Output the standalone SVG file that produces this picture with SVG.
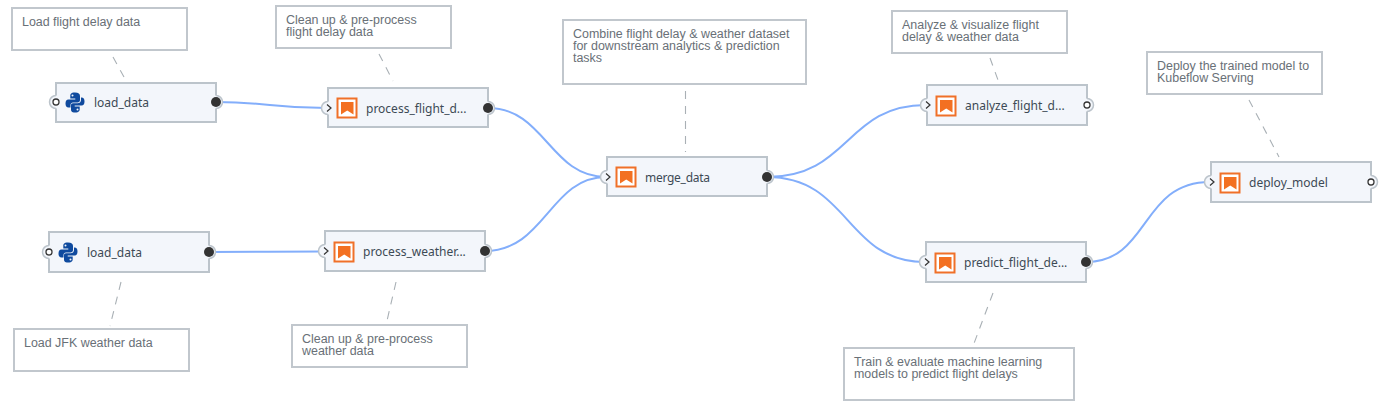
<svg xmlns="http://www.w3.org/2000/svg" width="1388" height="413" viewBox="0 0 1388 413">
<style>
.note{fill:#fff;stroke:#c1c7cd;stroke-width:2}
.nt{font:12.45px "Liberation Sans",Arial,sans-serif;fill:#697077}
.nl{font:12px "Noto Sans",sans-serif;fill:#3d4a55}
.n{fill:#f3f6fb;stroke:#bcc4cb;stroke-width:2}
.c{fill:none;stroke:#83aefb;stroke-width:2}
.d{fill:none;stroke:#a9b0b5;stroke-width:1.1;stroke-dasharray:8 7}
.bg{fill:#f3f6fb}
.ar{fill:none;stroke:#bcc4cb;stroke-width:1.5}
.po{fill:#fff;stroke:#333;stroke-width:1.3}
.pf{fill:#333}
.ch{fill:none;stroke:#333;stroke-width:1.2}
</style>
<defs>
<g id="ic"><rect x="1" y="1" width="19" height="19" fill="#fff" stroke="#f07029" stroke-width="2"/><path d="M4.500 4.500H17V17L10.750 13L4.500 17Z" fill="#f37021"/></g>
<g id="py"><path d="M9.500 0C5 0 4.800 2 4.800 3.500V6H9.800V7H3C1 7 0 8.500 0 11C0 13.500 1 15 3 15H5V12.500C5 11 6 10 7.500 10H12C13.500 10 14.500 9 14.500 7.500V3.500C14.500 1.500 13 0 9.500 0ZM7 2A1 1 0 1 1 7 4A1 1 0 1 1 7 2Z" fill="#0f4a9e"/><path d="M9.500 20C14 20 14.200 18 14.200 16.500V14H9.200V13H16C18 13 19 11.500 19 9C19 6.500 18 5 16 5H15.500V7.500C15.500 9.500 14 10.800 12 10.800H7.500C6 10.800 5.500 11.500 5.500 13V16.500C5.500 18.500 6 20 9.500 20ZM12 16A1 1 0 1 1 12 18A1 1 0 1 1 12 16Z" fill="#0f4a9e"/></g>
<g id="in"><circle r="6.500" class="bg"/><path d="M0-6.500A6.500 6.500 0 0 0 0 6.500" class="ar"/><path d="M-1-3.500L3 0L-1 3.500" class="ch"/></g>
<g id="out"><circle r="6.500" class="bg"/><path d="M0-6.500A6.500 6.500 0 0 1 0 6.500" class="ar"/><circle r="5" class="pf"/></g>
<g id="unl"><circle r="6.500" class="bg"/><path d="M0-6.500A6.500 6.500 0 0 0 0 6.500" class="ar"/><circle r="3" class="po"/></g>
<g id="unr"><circle r="6.500" class="bg"/><path d="M0-6.500A6.500 6.500 0 0 1 0 6.500" class="ar"/><circle r="3" class="po"/></g>
</defs>
<g id="connectors">
<path class="c" d="M216 102C270 102 270 108 327 108"/>
<path class="c" d="M209 252C265 252 270 251.500 324 251.500"/>
<path class="c" d="M488 108C545 108 550 177 606 177"/>
<path class="c" d="M485 251C545 251 550 177 606 177"/>
<path class="c" d="M767 177C850 177 845 105 926 105"/>
<path class="c" d="M767 177C850 177 845 262 925 262"/>
<path class="c" d="M1086 262C1150 262 1140 182 1210 182"/>
<path class="d" d="M113 57L124 77"/>
<path class="d" d="M379 54L393 81"/>
<path class="d" d="M685.500 91V152"/>
<path class="d" d="M990 58L998 80"/>
<path class="d" d="M1249 100L1279 157"/>
<path class="d" d="M121 282L110 326"/>
<path class="d" d="M396 282L386 325"/>
<path class="d" d="M993 293L973 346"/>
</g>
<g id="note-1"><rect class="note" x="12" y="8" width="175" height="42"/><text class="nt" x="22" y="26">Load flight delay data</text></g>
<g id="note-2"><rect class="note" x="276" y="6" width="175" height="42"/><text class="nt" x="286" y="24">Clean up &amp; pre-process</text><text class="nt" x="286" y="36">flight delay data</text></g>
<g id="note-3"><rect class="note" x="563" y="20" width="243" height="64"/><text class="nt" x="573" y="38">Combine flight delay &amp; weather dataset</text><text class="nt" x="573" y="50">for downstream analytics &amp; prediction</text><text class="nt" x="573" y="62">tasks</text></g>
<g id="note-4"><rect class="note" x="892" y="11" width="175" height="42"/><text class="nt" x="902" y="29">Analyze &amp; visualize flight</text><text class="nt" x="902" y="41">delay &amp; weather data</text></g>
<g id="note-5"><rect class="note" x="1147" y="52" width="175" height="42"/><text class="nt" x="1157" y="70">Deploy the trained model to</text><text class="nt" x="1157" y="82">Kubeflow Serving</text></g>
<g id="note-6"><rect class="note" x="14" y="329" width="175" height="42"/><text class="nt" x="24" y="347">Load JFK weather data</text></g>
<g id="note-7"><rect class="note" x="292" y="325" width="175" height="42"/><text class="nt" x="302" y="343">Clean up &amp; pre-process</text><text class="nt" x="302" y="355">weather data</text></g>
<g id="note-8"><rect class="note" x="844" y="348" width="230" height="52"/><text class="nt" x="854" y="366">Train &amp; evaluate machine learning</text><text class="nt" x="854" y="378">models to predict flight delays</text></g>
<g id="node-load-1"><rect class="n" x="56" y="83" width="160" height="39"/><use href="#py" x="65.500" y="92.500"/><text class="nl" x="94" y="107">load_data</text><use href="#unl" x="56" y="102"/><use href="#out" x="216" y="102"/></g>
<g id="node-load-2"><rect class="n" x="49" y="232" width="160" height="40"/><use href="#py" x="58.500" y="242.500"/><text class="nl" x="87" y="257">load_data</text><use href="#unl" x="49" y="252"/><use href="#out" x="209" y="252"/></g>
<g id="node-process-flight"><rect class="n" x="328" y="88" width="160" height="39"/><use href="#ic" x="336.500" y="97.500"/><text class="nl" x="366" y="113">process_flight_d...</text><use href="#in" x="328" y="108"/><use href="#out" x="488" y="108"/></g>
<g id="node-process-weather"><rect class="n" x="325" y="231" width="160" height="40"/><use href="#ic" x="333.500" y="241.500"/><text class="nl" x="363" y="256">process_weather...</text><use href="#in" x="325" y="251"/><use href="#out" x="485" y="251"/></g>
<g id="node-merge"><rect class="n" x="607" y="157" width="160" height="39"/><use href="#ic" x="615.500" y="166.500"/><text class="nl" x="645" y="182" textLength="65">merge_data</text><use href="#in" x="607" y="177"/><use href="#out" x="767" y="177"/></g>
<g id="node-analyze"><rect class="n" x="927" y="85" width="160" height="40"/><use href="#ic" x="935.500" y="95.500"/><text class="nl" x="965" y="110">analyze_flight_d...</text><use href="#in" x="927" y="105"/><use href="#unr" x="1087" y="105"/></g>
<g id="node-predict"><rect class="n" x="926" y="242" width="160" height="40"/><use href="#ic" x="934.500" y="252.500"/><text class="nl" x="964" y="267">predict_flight_de...</text><use href="#in" x="926" y="262"/><use href="#out" x="1086" y="262"/></g>
<g id="node-deploy"><rect class="n" x="1211" y="162" width="160" height="40"/><use href="#ic" x="1219.500" y="172.500"/><text class="nl" x="1249" y="187">deploy_model</text><use href="#in" x="1211" y="182"/><use href="#unr" x="1371" y="182"/></g>
</svg>
